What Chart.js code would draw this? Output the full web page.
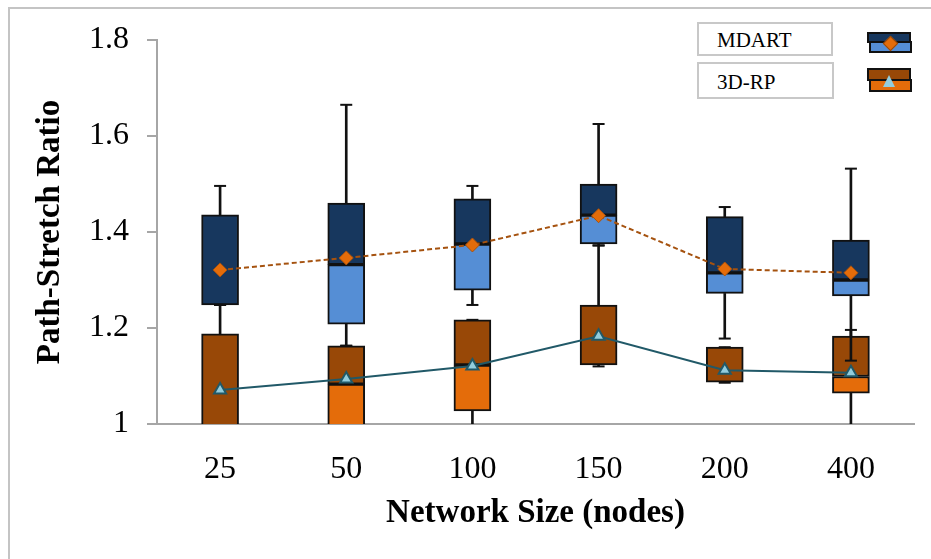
<!DOCTYPE html>
<html>
<head>
<meta charset="utf-8">
<script src="https://cdn.jsdelivr.net/npm/chart.js@4"></script>
<style>
  body { margin: 0; background: #fff; }
  #wrap { position: relative; width: 931px; height: 559px; overflow: hidden; font-family: 'Liberation Serif', 'Times New Roman', serif; }
  #frame { position: absolute; left: 8px; top: 7px; width: 960px; height: 600px; border: 2px solid #c4c4c4; }
  canvas { position: absolute; left: 0; top: 0; }
  .lbox { position: absolute; border: 2px solid #c8c8c8; background: #fff; font-size: 21px; line-height: 1; box-sizing: border-box; padding-left: 18px; }
  .sw { position: absolute; border: 2px solid #111; box-sizing: border-box; }
</style>
</head>
<body>
<div id="wrap">
  <div id="frame"></div>
  <canvas id="chart" width="931" height="559"></canvas>
  <!-- legend -->
  <div class="lbox" style="left:697px;top:22px;width:136px;height:34px;padding-top:6px;">MDART</div>
  <div class="lbox" style="left:697px;top:62px;width:137px;height:37px;padding-top:8px;">3D-RP</div>
  <div class="sw" style="left:867px;top:32px;width:44px;height:11px;background:#17375E;"></div>
  <div class="sw" style="left:869px;top:41px;width:43px;height:12px;background:#558ED5;"></div>
  <div style="position:absolute;left:885px;top:38px;width:9px;height:9px;background:#E46C0A;border:1px solid #984807;transform:rotate(45deg);"></div>
  <div class="sw" style="left:867px;top:68px;width:44px;height:13px;background:#984807;"></div>
  <div class="sw" style="left:869px;top:79px;width:43px;height:13px;background:#E46C0A;"></div>
  <div style="position:absolute;left:883px;top:75px;width:0;height:0;border-left:6px solid transparent;border-right:6px solid transparent;border-bottom:12px solid #93CDDD;"></div>
</div>
<script>
// ===== DATA =====
const categories = ["25", "50", "100", "150", "200", "400"];
const yTickLabels = ["1", "1.2", "1.4", "1.6", "1.8"];

// MDART
const mdartMax    = [1.496, 1.665, 1.496, 1.625, 1.452, 1.532];
const mdartQ3     = [1.436, 1.460, 1.469, 1.500, 1.432, 1.383];
const mdartMedian = [1.248, 1.332, 1.375, 1.435, 1.315, 1.300];
const mdartQ1     = [1.248, 1.208, 1.279, 1.375, 1.272, 1.267];
const mdartMin    = [1.248, 1.163, 1.248, 1.372, 1.178, 1.132];
const mdartMean   = [1.321, 1.346, 1.373, 1.434, 1.323, 1.315];

// 3D-RP
const rpMax    = [1.248, 1.163, 1.217, 1.372, 1.160, 1.196];
const rpQ3     = [1.188, 1.163, 1.217, 1.248, 1.160, 1.183];
const rpMedian = [0.980, 1.083, 1.123, 1.123, 1.087, 1.099];
const rpQ1     = [0.950, 0.950, 1.027, 1.123, 1.087, 1.064];
const rpMin    = [0.900, 0.900, 0.950, 1.120, 1.086, 0.950];
const rpMean   = [1.071, 1.094, 1.121, 1.183, 1.112, 1.107];

const pair = (a, b) => a.map((v, i) => [v, b[i]]);

const FONT = "'Liberation Serif', 'Times New Roman', serif";
const AXIS = "#a6a6a6";

function boxSet(lo, hi, color) {
  return {
    data: pair(lo, hi), backgroundColor: color, borderColor: "#111",
    borderWidth: 2, borderSkipped: false, barThickness: 37, grouped: false, order: 3
  };
}
function whiskerSet(lo, hi) {
  return {
    data: pair(lo, hi), backgroundColor: "#111", borderWidth: 0,
    barThickness: 2, grouped: false, order: 2
  };
}
function capSet(vals) {
  return {
    type: "line", data: vals, showLine: false, pointStyle: "line",
    pointRadius: 6, pointBorderWidth: 2, pointBorderColor: "#111", order: 1
  };
}

new Chart(document.getElementById("chart"), {
  type: "bar",
  data: {
    labels: categories,
    datasets: [
      {
        type: "line", data: mdartMean, borderColor: "#A5520F", borderWidth: 2,
        borderDash: [5, 3], pointStyle: "rectRot", pointRadius: 7,
        pointBackgroundColor: "#E46C0A", pointBorderColor: "#A5520F", pointBorderWidth: 1, order: 0
      },
      {
        type: "line", data: rpMean, borderColor: "#215968", borderWidth: 2,
        pointStyle: "triangle", pointRadius: 7,
        pointBackgroundColor: "#93CDDD", pointBorderColor: "#215968", pointBorderWidth: 2, order: 0
      },
      capSet(mdartMax), capSet(mdartMin), capSet(rpMax), capSet(rpMin),
      whiskerSet(mdartQ3, mdartMax), whiskerSet(mdartMin, mdartQ1),
      whiskerSet(rpQ3, rpMax), whiskerSet(rpMin, rpQ1),
      boxSet(mdartMedian, mdartQ3, "#17375E"),
      boxSet(mdartQ1, mdartMedian, "#558ED5"),
      boxSet(rpMedian, rpQ3, "#984807"),
      boxSet(rpQ1, rpMedian, "#E46C0A")
    ]
  },
  options: {
    responsive: false,
    animation: false,
    layout: { padding: { top: 40, right: 17, left: 0, bottom: 0 } },
    plugins: { legend: { display: false }, tooltip: { enabled: false } },
    scales: {
      x: {
        afterFit: (s) => { s.height = 135; },
        grid: { display: false, drawTicks: false },
        border: { display: true, color: AXIS, width: 2 },
        ticks: { color: "#000", padding: 26, font: { family: FONT, size: 32 } },
        title: {
          display: true, text: "Network Size (nodes)", color: "#000",
          font: { family: FONT, size: 33, weight: "bold" }, padding: { top: 0, bottom: 26 }
        }
      },
      y: {
        min: 1, max: 1.8,
        afterFit: (s) => { s.width = 157; },
        grid: { drawOnChartArea: false, drawTicks: true, tickLength: 10, color: AXIS, lineWidth: 2 },
        border: { display: true, color: AXIS, width: 2 },
        ticks: {
          stepSize: 0.2, padding: 18, color: "#000", font: { family: FONT, size: 32 },
          callback: (v, i) => yTickLabels[i]
        },
        title: {
          display: true, text: "Path-Stretch Ratio", color: "#000",
          font: { family: FONT, size: 33, weight: "bold" }, padding: { top: 31, bottom: 0 }
        }
      }
    }
  }
});
</script>
</body>
</html>
